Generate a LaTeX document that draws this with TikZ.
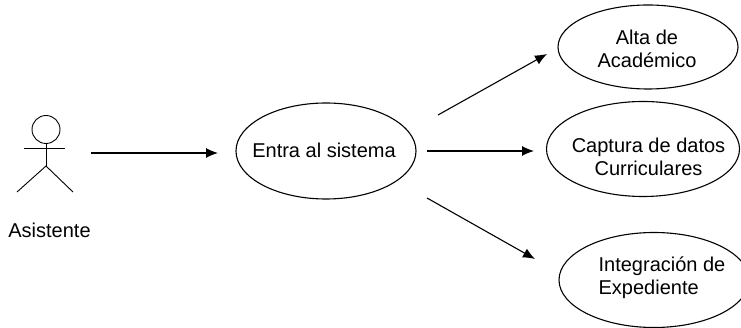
\documentclass[tikz,border=0pt]{standalone}
\usepackage{fontspec}
\setmainfont{Liberation Sans}
\usetikzlibrary{shapes.geometric,arrows.meta}
\tikzset{
usecase/.style={draw,ellipse,line width=1.1pt,inner sep=0pt},
casetext/.style={align=center,inner sep=0pt,font=\fontsize{20pt}{23pt}\selectfont},
flow/.style={black,line width=1.1pt,-{Latex[length=12pt,width=10pt]}},
stick/.style={line width=.9pt},
}
\begin{document}
\begin{tikzpicture}[x=1pt,y=-1pt]
\useasboundingbox (0,0) rectangle (741,328);
% actor
\node[draw,circle,stick,minimum size=28pt,inner sep=0pt] (head) at (46,129.5) {};
\coordinate (hip) at (46,166);
\coordinate (armL) at (24,148);
\coordinate (armR) at (65,148);
\coordinate (footL) at (17,192);
\coordinate (footR) at (73,192);
\draw[stick] (head) -- (hip);
\draw[stick] (armL) -- (armR);
\draw[stick] (footL) -- (hip) -- (footR);
\node[casetext] (asistente) at (49.5,230) {Asistente};
% use cases
\node[usecase,minimum width=180pt,minimum height=96pt] (entra) at (326,151) {};
\node[casetext] (entraText) at (324,150) {Entra al sistema};
\node[usecase,minimum width=180pt,minimum height=84pt] (alta) at (648,47) {};
\node[casetext] (altaText) at (647,49) {Alta de\\Académico};
\node[usecase,minimum width=193pt,minimum height=95pt] (captura) at (643,149) {};
\node[casetext] (capturaText) at (648.5,157) {Captura de datos\\Curriculares};
\node[usecase,minimum width=190pt,minimum height=95pt] (integra) at (654,280) {};
\node[casetext,align=left] (integraText) at (662,278) {Integración de\\Expediente};
% arrows
\coordinate (start) at (91,153);
\coordinate (end) at (218,153);
\draw[flow] (start) -- (end);
\coordinate (captL) at (427,151);
\coordinate (captR) at (534,151);
\draw[flow] (captL) -- (captR);
\coordinate (altaL) at (438,115);
\coordinate (altaR) at (547,54);
\draw[flow] (altaL) -- (altaR);
\coordinate (intL) at (427,198);
\coordinate (intR) at (535,259);
\draw[flow] (intL) -- (intR);
\end{tikzpicture}
\end{document}
